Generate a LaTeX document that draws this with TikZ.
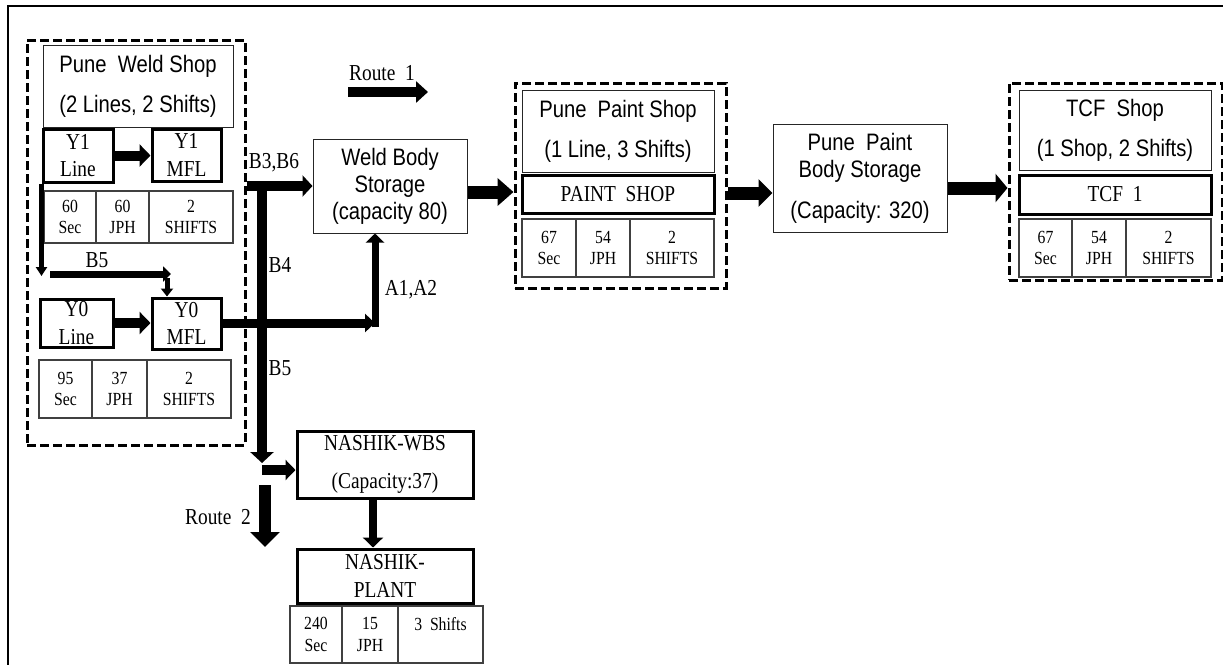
\documentclass[tikz,border=0pt]{standalone}
\usepackage{fontspec}
\setmainfont{Liberation Serif}[FakeStretch=0.85]
\setsansfont{Liberation Sans}[FakeStretch=0.85]
\usetikzlibrary{arrows.meta,calc}
\newcommand\fnthead{\sffamily\fontsize{23.8}{40}\selectfont}
\newcommand\fntstore{\sffamily\fontsize{23.8}{27}\selectfont}
\newcommand\fntline{\rmfamily\fontsize{22.8}{27.5}\selectfont}
\newcommand\fnttab{\rmfamily\fontsize{18.5}{21.5}\selectfont}
\newcommand\fntlab{\rmfamily\fontsize{22.8}{24}\selectfont}
\begin{document}
\begin{tikzpicture}[x=1pt,y=-1pt,
  thinbox/.style={draw=black!85, line width=1pt, inner sep=0pt, align=center},
  thickbox/.style={draw=black, line width=3pt, inner sep=0pt, align=center},
  cell/.style={draw=black!75, line width=1.5pt, inner sep=0pt, align=center, font=\fnttab},
  dashbox/.style={draw=black, line width=3pt, dash pattern=on 9pt off 4pt, inner sep=0pt},
  lab/.style={inner sep=0pt, font=\fntlab},
  arr/.style n args={3}{line width=#1, -{Triangle[width=#2,length=#3]}}]
\useasboundingbox (0,0) rectangle (1223,665);
\draw[line width=1.6pt] (1223,6) -- (8,6) -- (8,665);

% ---------- Pune weld shop ----------
\node[dashbox, minimum width=218pt, minimum height=405pt] (wsd) at (136,242.5) {};
\node[thinbox, minimum width=190pt, minimum height=82pt, font=\fnthead] (pws) at (138,86) {Pune\ \ Weld Shop\\(2 Lines, 2 Shifts)};
\node[thickbox, minimum width=70pt, minimum height=53pt, font=\fntline] (y1l) at (78,155.5) {Y1\\Line};
\node[thickbox, minimum width=69pt, minimum height=52pt, font=\fntline] (y1m) at (186.5,155) {Y1\\MFL};
\node[cell, minimum width=52pt, minimum height=52pt] (t1a) at (70,217) {60\\Sec};
\node[cell, minimum width=53pt, minimum height=52pt] (t1b) at (122.5,217) {60\\JPH};
\node[cell, minimum width=84pt, minimum height=52pt] (t1c) at (191,217) {2\\SHIFTS};
\node[thickbox, minimum width=73pt, minimum height=48pt, font=\fntline] (y0l) at (76.5,323) {Y0\\Line};
\node[thickbox, minimum width=69pt, minimum height=51pt, font=\fntline] (y0m) at (186.5,323.5) {Y0\\MFL};
\node[cell, minimum width=53pt, minimum height=58pt] (t2a) at (65.5,389) {95\\Sec};
\node[cell, minimum width=55pt, minimum height=58pt] (t2b) at (119.5,389) {37\\JPH};
\node[cell, minimum width=84pt, minimum height=58pt] (t2c) at (189,389) {2\\SHIFTS};

% ---------- Weld body storage ----------
\node[thinbox, minimum width=154pt, minimum height=94pt, font=\fntstore] (wbs) at (390,186) {Weld Body\\Storage\\(capacity 80)};

% ---------- Paint shop ----------
\node[dashbox, minimum width=211pt, minimum height=205pt] (pdash) at (620.5,185.5) {};
\node[thinbox, minimum width=192pt, minimum height=82pt, font=\fnthead] (pps) at (618,131) {Pune\ \ Paint Shop\\(1 Line, 3 Shifts)};
\node[thickbox, minimum width=192pt, minimum height=38pt, font=\fntline] (psh) at (618,194) {PAINT\ \ SHOP};
\node[cell, minimum width=54pt, minimum height=58pt] (t3a) at (549,248) {67\\Sec};
\node[cell, minimum width=54pt, minimum height=58pt] (t3b) at (603,248) {54\\JPH};
\node[cell, minimum width=84pt, minimum height=58pt] (t3c) at (672,248) {2\\SHIFTS};

% ---------- Paint body storage ----------
\node[thinbox, minimum width=174pt, minimum height=108pt, font=\fntstore] (ppbs) at (860,178) {Pune\ \ Paint\\Body Storage\\[14pt](Capacity: 320)};

% ---------- TCF ----------
\node[dashbox, minimum width=213pt, minimum height=197pt] (tdash) at (1115.5,181.5) {};
\node[thinbox, minimum width=192pt, minimum height=80pt, font=\fnthead] (tcfs) at (1115,130) {TCF\ \ Shop\\(1 Shop, 2 Shifts)};
\node[thickbox, minimum width=192pt, minimum height=39pt, font=\fntline] (tcf1) at (1115,194.5) {TCF\ \ 1};
\node[cell, minimum width=53pt, minimum height=58pt] (t4a) at (1045.5,248) {67\\Sec};
\node[cell, minimum width=54pt, minimum height=58pt] (t4b) at (1099,248) {54\\JPH};
\node[cell, minimum width=85pt, minimum height=58pt] (t4c) at (1168.5,248) {2\\SHIFTS};

% ---------- Nashik ----------
\node[thickbox, minimum width=176pt, minimum height=67pt, font=\rmfamily\fontsize{22.8}{38}\selectfont] (nwbs) at (385,464.5) {NASHIK-WBS\\(Capacity:37)};
\node[thickbox, minimum width=176pt, minimum height=54pt, font=\fntline] (nplant) at (385,576) {NASHIK-\\PLANT};
\node[cell, minimum width=52pt, minimum height=57pt] (t5a) at (316,634.5) {240\\Sec};
\node[cell, minimum width=56pt, minimum height=57pt] (t5b) at (370,634.5) {15\\JPH};
\node[cell, minimum width=85pt, minimum height=57pt] (t5c) at (440.5,634.5) {3\ \ Shifts\\\phantom{Sec}};

% ---------- labels ----------
\node[lab] (lr1) at (382,73) {Route\ \ 1};
\node[lab] (lb36) at (274,163) {B3,B6};
\node[lab] (lb5a) at (97,260) {B5};
\node[lab] (lb4) at (280,265) {B4};
\node[lab] (lb5b) at (280,368) {B5};
\node[lab] (la12) at (411,290) {A1,A2};
\node[lab] (lr2) at (218,517) {Route\ \ 2};

% ---------- free ends ----------
\coordinate (b5a) at (42,276);
\coordinate (b5b) at (50,274);
\coordinate (b5c) at (171,274);
\coordinate (b5d) at (167,278);
\coordinate (a12) at (375,323);
\coordinate (a12v) at (375,327);
\coordinate (v1) at (262,190);
\coordinate (v2) at (262,463);
\coordinate (j) at (262,470);
\coordinate (r2a) at (265,485);
\coordinate (r2b) at (265,547);
\coordinate (r1a) at (348,92);
\coordinate (r1b) at (428,92);
\coordinate (e1) at ($(wbs.east)+(0,6)$);
\coordinate (e2) at ($(pdash.east)+(0,7.5)$);
\coordinate (e3) at ($(ppbs.east)+(0,10)$);

% ---------- connectors ----------
\draw[arr={10pt}{22pt}{11pt}] (y1l.east) -- (y1l.east -| y1m.west);
\draw[arr={5pt}{11pt}{9pt}] (y1l.south west) -- (y1l.south west |- b5a);
\draw[arr={7pt}{15pt}{8pt}] (b5b) -- (b5c);
\draw[arr={5pt}{12pt}{8pt}] (b5d) -- (b5d |- y0m.north);
\draw[arr={10pt}{22pt}{11pt}] (y0l.east) -- (y0l.east -| y0m.west);
\draw[arr={9pt}{18pt}{10pt}] (y0m.east |- a12) -- (a12);
\draw[arr={7pt}{18pt}{9pt}] (a12v) -- (a12v |- wbs.south);
\draw[arr={10pt}{21pt}{10pt}] (wsd.east |- wbs.west) -- (wbs.west);
\draw[arr={10pt}{23pt}{11pt}] (v1) -- (v2);
\draw[arr={10pt}{20pt}{10pt}] (j) -- (j -| nwbs.west);
\draw[arr={12pt}{29pt}{15pt}] (r2a) -- (r2b);
\draw[arr={8pt}{20pt}{10pt}] ([xshift=-12pt]nwbs.south) -- ([xshift=-12pt]nplant.north);
\draw[arr={13pt}{27pt}{16pt}] (e1) -- (e1 -| pdash.west);
\draw[arr={13pt}{27pt}{14pt}] (e2) -- (e2 -| ppbs.west);
\draw[arr={13pt}{28pt}{12pt}] (e3) -- (e3 -| tdash.west);
\draw[arr={10pt}{21pt}{12pt}] (r1a) -- (r1b);
\end{tikzpicture}
\end{document}
